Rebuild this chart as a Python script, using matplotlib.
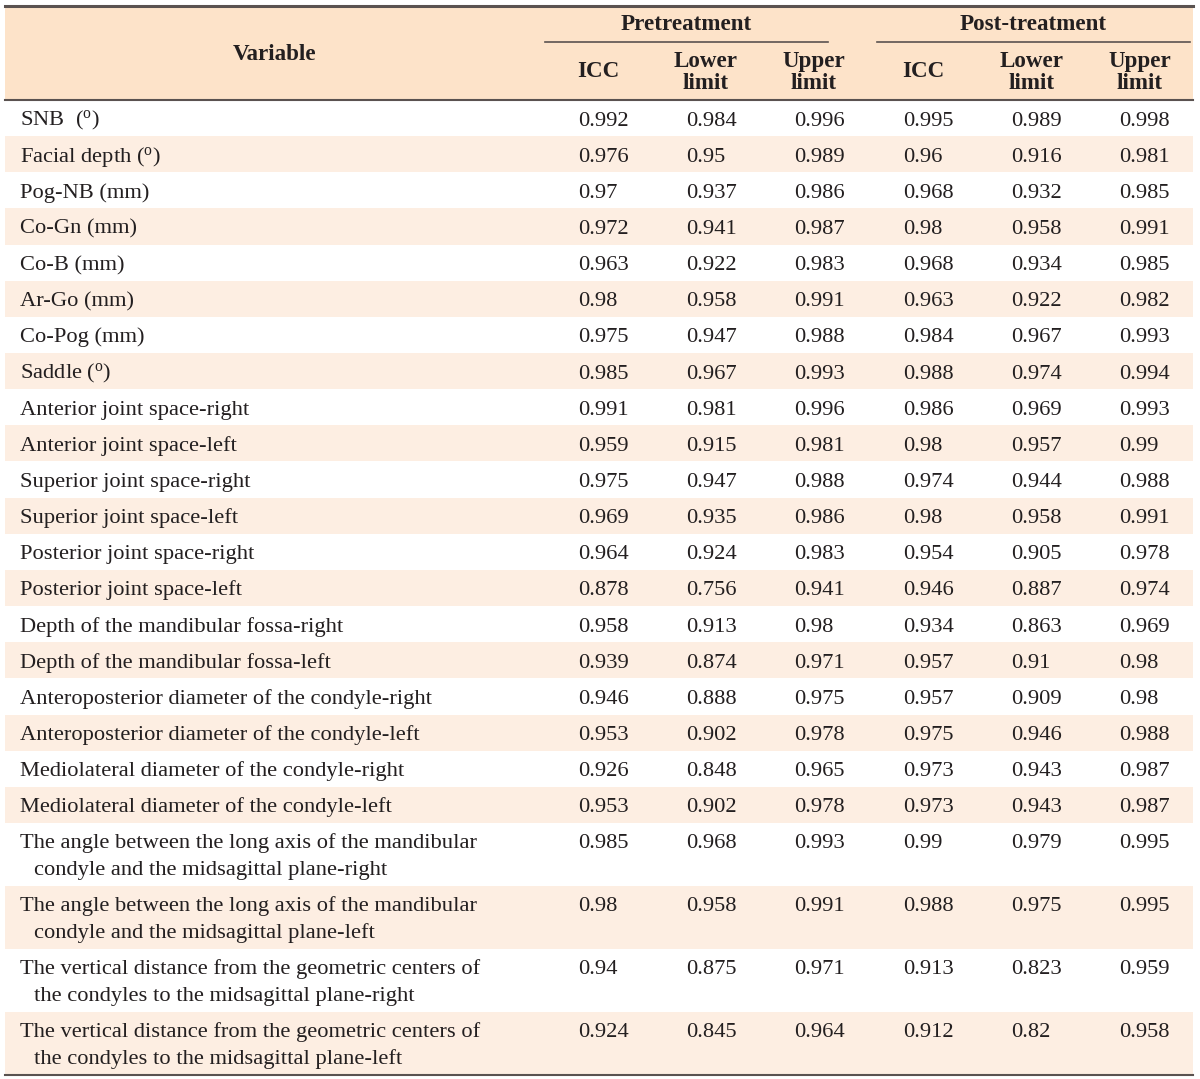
import matplotlib
matplotlib.use("Agg")
import matplotlib.pyplot as plt
from matplotlib.patches import Rectangle

plt.rcParams['font.family'] = ['Liberation Serif', 'DejaVu Serif']
plt.rcParams['mathtext.fontset'] = 'custom'
plt.rcParams['mathtext.rm'] = 'Liberation Serif'
plt.rcParams['mathtext.it'] = 'Liberation Serif:italic'

variables = [
    r"SNB  ($^{\mathrm{o}}$)",
    r"Facial depth ($^{\mathrm{o}}$)",
    "Pog-NB (mm)",
    "Co-Gn (mm)",
    "Co-B (mm)",
    "Ar-Go (mm)",
    "Co-Pog (mm)",
    r"Saddle ($^{\mathrm{o}}$)",
    "Anterior joint space-right",
    "Anterior joint space-left",
    "Superior joint space-right",
    "Superior joint space-left",
    "Posterior joint space-right",
    "Posterior joint space-left",
    "Depth of the mandibular fossa-right",
    "Depth of the mandibular fossa-left",
    "Anteroposterior diameter of the condyle-right",
    "Anteroposterior diameter of the condyle-left",
    "Mediolateral diameter of the condyle-right",
    "Mediolateral diameter of the condyle-left",
    "The angle between the long axis of the mandibular\ncondyle and the midsagittal plane-right",
    "The angle between the long axis of the mandibular\ncondyle and the midsagittal plane-left",
    "The vertical distance from the geometric centers of\nthe condyles to the midsagittal plane-right",
    "The vertical distance from the geometric centers of\nthe condyles to the midsagittal plane-left",
]

pre_icc = ["0.992", "0.976", "0.97", "0.972", "0.963", "0.98", "0.975", "0.985", "0.991", "0.959",
           "0.975", "0.969", "0.964", "0.878", "0.958", "0.939", "0.946", "0.953", "0.926", "0.953",
           "0.985", "0.98", "0.94", "0.924"]
pre_lower = ["0.984", "0.95", "0.937", "0.941", "0.922", "0.958", "0.947", "0.967", "0.981", "0.915",
             "0.947", "0.935", "0.924", "0.756", "0.913", "0.874", "0.888", "0.902", "0.848", "0.902",
             "0.968", "0.958", "0.875", "0.845"]
pre_upper = ["0.996", "0.989", "0.986", "0.987", "0.983", "0.991", "0.988", "0.993", "0.996", "0.981",
             "0.988", "0.986", "0.983", "0.941", "0.98", "0.971", "0.975", "0.978", "0.965", "0.978",
             "0.993", "0.991", "0.971", "0.964"]
post_icc = ["0.995", "0.96", "0.968", "0.98", "0.968", "0.963", "0.984", "0.988", "0.986", "0.98",
            "0.974", "0.98", "0.954", "0.946", "0.934", "0.957", "0.957", "0.975", "0.973", "0.973",
            "0.99", "0.988", "0.913", "0.912"]
post_lower = ["0.989", "0.916", "0.932", "0.958", "0.934", "0.922", "0.967", "0.974", "0.969", "0.957",
              "0.944", "0.958", "0.905", "0.887", "0.863", "0.91", "0.909", "0.946", "0.943", "0.943",
              "0.979", "0.975", "0.823", "0.82"]
post_upper = ["0.998", "0.981", "0.985", "0.991", "0.985", "0.982", "0.993", "0.994", "0.993", "0.99",
              "0.988", "0.991", "0.978", "0.974", "0.969", "0.98", "0.98", "0.988", "0.987", "0.987",
              "0.995", "0.995", "0.959", "0.958"]

groups = ["Pretreatment", "Post-treatment"]
subheaders = ["ICC", "Lower\nlimit", "Upper\nlimit"]

W, H = 1200, 1079
fig = plt.figure(figsize=(W / 100, H / 100), dpi=100)
ax = fig.add_axes([0, 0, 1, 1])
ax.set_xlim(0, W)
ax.set_ylim(H, 0)
ax.axis('off')

txt = '#231f20'
header_bg = '#fde3c9'
band_bg = '#fdeee2'
rule = '#5a5250'
fs = 16.2
hfont = dict(fontsize=16.6, fontweight='bold', color=txt)

x0, x1 = 5, 1193
# header
ax.add_patch(Rectangle((x0, 6), x1 - x0, 93, facecolor=header_bg, edgecolor='none'))
ax.plot([x0, x1], [5.5, 5.5], color=rule, lw=2.2)
ax.plot([x0, x1], [99.5, 99.5], color=rule, lw=1.5)
ax.text(275, 60, "Variable", ha='center', va='baseline', **hfont)

group_spans = [(545, 828), (877, 1190)]
for g, (a, b) in zip(groups, group_spans):
    ax.text((a + b) / 2, 30, g, ha='center', va='baseline', **hfont)
    ax.plot([a, b], [41.5, 41.5], color=rule, lw=1.2)

sub_cx = [598, 706, 814, 923, 1032, 1140]
for i, cx in enumerate(sub_cx):
    s = subheaders[i % 3]
    if "\n" in s:
        l1, l2 = s.split("\n")
        ax.text(cx, 67, l1, ha='center', va='baseline', **hfont)
        ax.text(cx, 89, l2, ha='center', va='baseline', **hfont)
    else:
        ax.text(cx, 77, s, ha='center', va='baseline', **hfont)

# rows
col_x = [578, 686, 794, 903, 1011, 1119]
cols = [pre_icc, pre_lower, pre_upper, post_icc, post_lower, post_upper]
single_h = 36.15
double_h = 63
y = 100
for i, v in enumerate(variables):
    two = "\n" in v
    h = double_h if two else single_h
    if i % 2 == 1:
        ax.add_patch(Rectangle((x0, y), x1 - x0, h, facecolor=band_bg, edgecolor='none'))
    ty = y + 25.5
    if two:
        l1, l2 = v.split("\n")
        ax.text(20, ty, l1, ha='left', va='baseline', fontsize=fs, color=txt)
        ax.text(34, ty + 27, l2, ha='left', va='baseline', fontsize=fs, color=txt)
    else:
        ax.text(20, ty, v, ha='left', va='baseline', fontsize=fs, color=txt)
    for cx, col in zip(col_x, cols):
        ax.text(cx, ty, col[i], ha='left', va='baseline', fontsize=fs, color=txt)
    y += h

ax.plot([x0, x1], [y + 0.5, y + 0.5], color=rule, lw=1.5)

fig.savefig("out.png", dpi=100, facecolor='white')
